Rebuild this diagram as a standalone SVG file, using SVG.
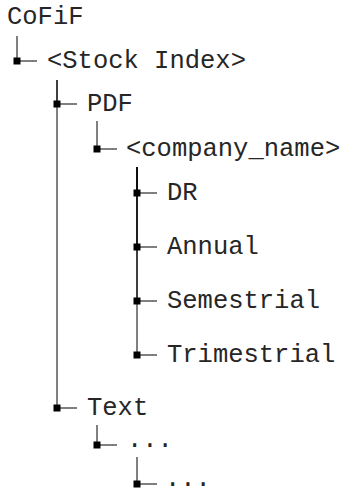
<svg xmlns="http://www.w3.org/2000/svg" width="342" height="489" viewBox="0 0 342 489">
  <style>
    .lbl { font-family: "Liberation Mono", "DejaVu Sans Mono", monospace; font-size: 25.5px; fill: #262626; }
    .edge { stroke: #000; stroke-width: 1; fill: none; }
    .dot { fill: #000; }
  </style>
  <defs>
    <rect id="bullet" x="-3.5" y="-3.5" width="7" height="7" class="dot"/>
  </defs>
  <rect width="342" height="489" fill="#fff"/>

  <!-- tree connectors: one stem per child, overlapping on shared runs -->
  <g id="connectors">
    <path class="edge" d="M17 36V61H37"/>
    <path class="edge" d="M57 80V104H77"/>
    <path class="edge" d="M57 80V408H77"/>
    <path class="edge" d="M97 121V149H117"/>
    <path class="edge" d="M137 167V193H157"/>
    <path class="edge" d="M137 167V247H157"/>
    <path class="edge" d="M137 167V301H157"/>
    <path class="edge" d="M137 167V355H157"/>
    <path class="edge" d="M97 425V445H117"/>
    <path class="edge" d="M137 457V484H157"/>
    <use href="#bullet" x="17" y="61"/>
    <use href="#bullet" x="57" y="104"/>
    <use href="#bullet" x="57" y="408"/>
    <use href="#bullet" x="97" y="149"/>
    <use href="#bullet" x="137" y="193"/>
    <use href="#bullet" x="137" y="247"/>
    <use href="#bullet" x="137" y="301"/>
    <use href="#bullet" x="137" y="355"/>
    <use href="#bullet" x="97" y="445"/>
    <use href="#bullet" x="137" y="484"/>
  </g>

  <g id="root"><text class="lbl" x="7" y="24">CoFiF</text></g>
  <g id="stock-index"><text class="lbl" x="47" y="68">&lt;Stock Index&gt;</text></g>
  <g id="pdf"><text class="lbl" x="87" y="111">PDF</text></g>
  <g id="company-name"><text class="lbl" x="126" y="156">&lt;company_name&gt;</text></g>
  <g id="dr"><text class="lbl" x="167" y="200">DR</text></g>
  <g id="annual"><text class="lbl" x="167" y="254">Annual</text></g>
  <g id="semestrial"><text class="lbl" x="167" y="308">Semestrial</text></g>
  <g id="trimestrial"><text class="lbl" x="167" y="362">Trimestrial</text></g>
  <g id="text"><text class="lbl" x="87" y="415">Text</text></g>
  <g id="text-sub"><text class="lbl" x="127" y="447">...</text></g>
  <g id="text-sub-sub"><text class="lbl" x="165" y="486">...</text></g>
</svg>
